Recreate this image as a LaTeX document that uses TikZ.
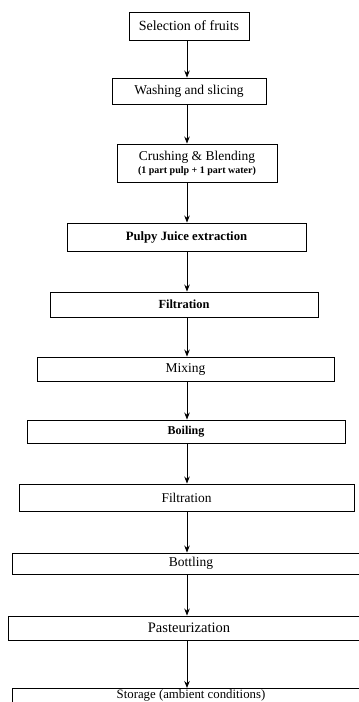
\documentclass[tikz,border=0pt]{standalone}
\usepackage{fontspec}
\setmainfont{Liberation Serif}
\usetikzlibrary{arrows.meta}
\tikzset{
  box/.style={draw=black, line width=0.9pt, inner sep=0pt, align=center, font=\fontsize{13.5}{15}\selectfont},
  flow/.style={draw=black, line width=0.9pt, -{Stealth[length=7pt,width=5.5pt]}}
}
\begin{document}
\begin{tikzpicture}[x=1pt,y=-1pt]
\useasboundingbox (0,0) rectangle (359,702);
\node[box, minimum width=120pt, minimum height=28pt, font=\fontsize{14}{16}\selectfont] (s1) at (189,26) {Selection of fruits};
\node[box, minimum width=154pt, minimum height=26pt] (s2) at (189,91) {Washing and slicing};
\node[box, minimum width=160pt, minimum height=38pt] (s3) at (197,163) {Crushing \& Blending\\[-2pt]{\fontsize{10}{11}\selectfont\bfseries (1 part pulp + 1 part water)}};
\node[box, minimum width=239pt, minimum height=28pt, font=\fontsize{12.7}{14}\selectfont\bfseries] (s4) at (186.5,237) {Pulpy Juice extraction};
\node[box, minimum width=268pt, minimum height=25pt, font=\fontsize{12.4}{14}\selectfont\bfseries] (s5) at (184,304.5) {Filtration};
\node[box, minimum width=297pt, minimum height=24pt] (s6) at (185.5,369) {Mixing};
\node[box, minimum width=318pt, minimum height=23pt, font=\fontsize{12}{14}\selectfont\bfseries] (s7) at (186,431.5) {Boiling};
\node[box, minimum width=335pt, minimum height=27pt, font=\fontsize{13.4}{15}\selectfont] (s8) at (186.5,497.5) {Filtration};
\node[box, minimum width=358pt, minimum height=21pt] (s9) at (191,563.5) {Bottling};
\node[box, minimum width=362pt, minimum height=24pt, font=\fontsize{14.5}{16}\selectfont] (s10) at (189,628) {Pasteurization};
\node[box, anchor=north, minimum width=358pt, text height=10pt, text depth=17pt, font=\fontsize{12.8}{14}\selectfont] (s11) at (191,688) {Storage (ambient conditions)};
\coordinate (ax) at (187,0);
\draw[flow] (s1.south -| ax) -- (s2.north -| ax);
\draw[flow] (s2.south -| ax) -- (s3.north -| ax);
\draw[flow] (s3.south -| ax) -- (s4.north -| ax);
\draw[flow] (s4.south -| ax) -- (s5.north -| ax);
\draw[flow] (s5.south -| ax) -- (s6.north -| ax);
\draw[flow] (s6.south -| ax) -- (s7.north -| ax);
\draw[flow] (s7.south -| ax) -- (s8.north -| ax);
\draw[flow] (s8.south -| ax) -- (s9.north -| ax);
\draw[flow] (s9.south -| ax) -- (s10.north -| ax);
\draw[flow] (s10.south -| ax) -- (s11.north -| ax);
\end{tikzpicture}
\end{document}
